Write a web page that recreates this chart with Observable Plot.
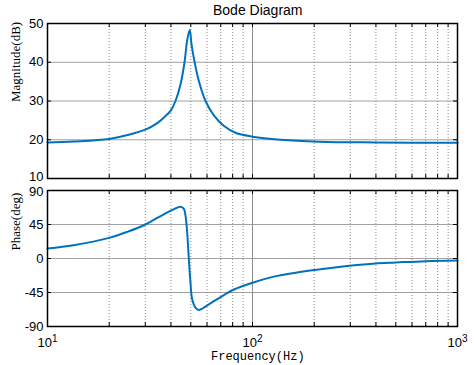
<!DOCTYPE html>
<html><head><meta charset="utf-8">
<script src="https://cdn.jsdelivr.net/npm/d3@7"></script>
<script src="https://cdn.jsdelivr.net/npm/@observablehq/plot@0.6"></script>
<style>
body{margin:0;background:#fff;}
#wrap{position:relative;width:474px;height:365px;background:#fff;overflow:hidden;}
#wrap svg{position:absolute;left:0;background:transparent !important;overflow:visible;}
.lbl{position:absolute;white-space:nowrap;color:#000;}
#title{left:213px;top:3px;font:14px/14px "Liberation Sans",Arial,sans-serif;}
#xlab{left:211px;top:351px;font:12px/12px "Liberation Mono","Courier New",monospace;}
</style></head><body>
<div id="wrap">
<div class="lbl" id="title">Bode Diagram</div>
<div class="lbl" id="xlab">Frequency(Hz)</div>
</div>
<script>
// Magnitude (dB)
const freqMag = [10, 13.4, 20, 24.5, 30, 34.3, 36.9, 40, 42.1, 44.6, 46.6, 48, 49.4, 50.4, 51.7, 54.7, 59, 64.8, 72.4, 82.6, 100, 137, 210, 400, 1000];
const magnitude = [19.3, 19.55, 20.2, 21.2, 22.6, 24.3, 25.7, 27.6, 30.0, 34.4, 40, 45.6, 48.3, 44.7, 41.2, 35.2, 30, 26.3, 23.6, 21.8, 20.8, 20.0, 19.5, 19.3, 19.2];
// Phase (deg)
const freqPhase = [10, 13.4, 20, 24.5, 30, 34.3, 40, 44.6, 46.2, 47.1, 48, 48.9, 49.8, 50.7, 52.7, 54.7, 60.2, 69.8, 81.2, 100, 127, 165, 210, 297, 398, 500, 698, 1000];
const phase = [13.2, 17.6, 27.3, 35.2, 45, 53.7, 63.4, 68.5, 66, 57, 35, 0, -31, -53, -65, -68, -62, -51, -41, -32, -24, -18.5, -14.5, -9.7, -6.6, -5.3, -3.5, -2.6];

const magTicks = [10, 20, 30, 40, 50];
const phaseTicks = [-90, -45, 0, 45, 90];
const decadeTicks = [10, 100, 1000];
const minorTicks = [20, 30, 40, 50, 60, 70, 80, 90, 200, 300, 400, 500, 600, 700, 800, 900];
const decadeBase = "10";
const decadeExponents = ["1", "2", "3"];

const magData = freqMag.map((f, i) => ({f, v: magnitude[i]}));
const phaseData = freqPhase.map((f, i) => ({f, v: phase[i]}));

const W = 474, ML = 47, MR = 17;
const PW = W - ML - MR;
const lineColor = "#0072BD";
const baseStyle = {fontFamily: "'Liberation Sans', Arial, sans-serif", fontSize: "13px", color: "#000", background: "transparent", overflow: "visible"};

function panel({height, marginTop, marginBottom, domain, yTicks, data, ylabel, ylabelDy, showX, edgeTick, edgeDy}) {
  const PH = height - marginTop - marginBottom;
  const innerX = minorTicks.concat([100]);
  const mainTicks = yTicks.filter(t => t !== edgeTick);
  const marks = [
    Plot.gridY(yTicks, {stroke: "#a0a0a0", strokeOpacity: 1, strokeWidth: 1}),
    Plot.gridX([100], {stroke: "#8c8c8c", strokeOpacity: 1, strokeWidth: 1}),
    Plot.gridX(minorTicks, {stroke: "#8c8c8c", strokeOpacity: 1, strokeWidth: 1, strokeDasharray: "1,2"}),
    Plot.line(data, {x: "f", y: "v", stroke: lineColor, strokeWidth: 2, curve: "catmull-rom"}),
    Plot.ruleX(innerX, {x: d => d, insetBottom: PH - 4, stroke: "#000"}),
    Plot.ruleX(innerX, {x: d => d, insetTop: PH - 4, stroke: "#000"}),
    Plot.ruleY(yTicks, {y: d => d, insetRight: PW - 4, stroke: "#000"}),
    Plot.ruleY(yTicks, {y: d => d, insetLeft: PW - 4, stroke: "#000"}),
    Plot.axisY(mainTicks, {anchor: "left", tickSize: 0, tickPadding: 4, tickFormat: d => String(d), label: null, fill: "#000"}),
    Plot.axisY([edgeTick], {anchor: "left", tickSize: 0, tickPadding: 4, dy: edgeDy, tickFormat: d => String(d), label: null, fill: "#000"}),
    Plot.frame({stroke: "#000", strokeWidth: 1.5}),
    Plot.text([ylabel], {frameAnchor: "left", dx: -32, dy: ylabelDy, rotate: -90, fontFamily: "'Liberation Serif', 'Times New Roman', serif", fontSize: 13, fill: "#000"})
  ];
  if (showX) {
    marks.push(Plot.axisX(decadeTicks, {anchor: "bottom", tickSize: 0, tickPadding: 11, tickFormat: d => decadeBase + decadeExponents[decadeTicks.indexOf(d)], label: null, fill: "#000"}));
  }
  return Plot.plot({
    width: W, height, marginLeft: ML, marginRight: MR, marginTop, marginBottom,
    style: baseStyle,
    x: {type: "log", domain: [10, 1000], axis: null},
    y: {domain, axis: null},
    marks
  });
}

const topPlot = panel({height: 190, marginTop: 23, marginBottom: 12, domain: [10, 50], yTicks: magTicks, data: magData, ylabel: "Magnitude(dB)", ylabelDy: 1, showX: false, edgeTick: 10, edgeDy: -1.5});
const botPlot = panel({height: 185, marginTop: 10, marginBottom: 39, domain: [-90, 90], yTicks: phaseTicks, data: phaseData, ylabel: "Phase(deg)", ylabelDy: -8, showX: true, edgeTick: 90, edgeDy: 1.5});
topPlot.style.top = "0px";
botPlot.style.top = "180px";
const wrap = document.getElementById("wrap");
wrap.appendChild(topPlot);
wrap.appendChild(botPlot);

// turn "10n" decade labels into 10 with a raised exponent
const decadeStrings = decadeExponents.map(e => decadeBase + e);
d3.select(botPlot).selectAll("text").each(function() {
  const s = this.textContent;
  if (!decadeStrings.includes(s)) return;
  const t = d3.select(this);
  const exp = s.slice(decadeBase.length);
  t.selectAll("*").remove();
  t.text(null);
  t.append("tspan").text(decadeBase);
  t.append("tspan").attr("dy", "-0.45em").attr("font-size", "10px").text(exp);
});
</script>
</body></html>
